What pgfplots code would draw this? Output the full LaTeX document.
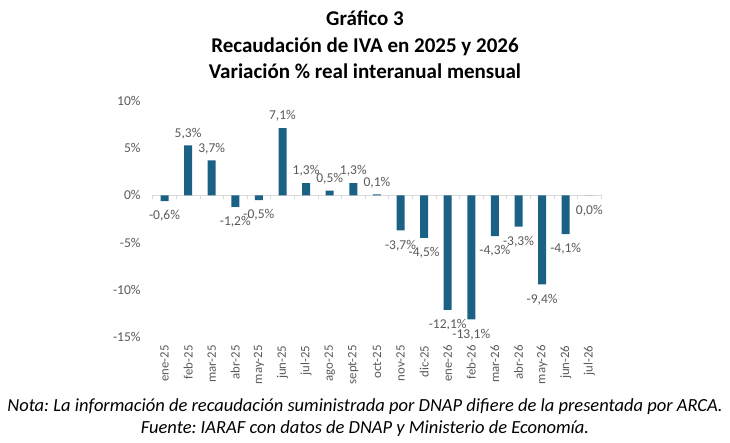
\documentclass[border=0pt]{standalone}
\usepackage{pgfplots}
\pgfplotsset{compat=1.18}
\usepackage{fontspec}
\setmainfont{Carlito}
\definecolor{barc}{HTML}{1B6185}
\definecolor{txt}{HTML}{595959}
\definecolor{axc}{HTML}{D9D9D9}
\begin{document}
\frenchspacing
\begin{tikzpicture}[x=1pt,y=1pt]
\begin{scope}[shift={(-152.7pt,-104.7pt)}]
\useasboundingbox (0,0) rectangle (730,442);
\node[font=\fontsize{21}{24}\selectfont\bfseries, anchor=base] at (365,416) {Gráfico 3};
\node[font=\fontsize{21}{24}\selectfont\bfseries, anchor=base] at (365,389.5) {Recaudación de IVA en 2025 y 2026};
\node[font=\fontsize{21}{24}\selectfont\bfseries, anchor=base] at (365,363.5) {Variación \% real interanual mensual};
\node[font=\fontsize{18.5}{20}\selectfont\itshape, anchor=base] at (365,30.3) {Nota: La información de recaudación suministrada por DNAP difiere de la presentada por ARCA.};
\node[font=\fontsize{18.5}{20}\selectfont\itshape, anchor=base] at (365,9) {Fuente: IARAF con datos de DNAP y Ministerio de Economía.};
\end{scope}
\begin{axis}[
  anchor=south west,
  scale only axis, width=448.4pt, height=236.5pt,
  xmin=-0.5, xmax=18.5, ymin=-15, ymax=10,
  axis line style={draw=none},
  major tick length=0pt,
  tick style={draw=none},
  xtick={0,...,18},
  xticklabels={ene-25,feb-25,mar-25,abr-25,may-25,jun-25,jul-25,ago-25,sept-25,oct-25,nov-25,dic-25,ene-26,feb-26,mar-26,abr-26,may-26,jun-26,jul-26},
  xticklabel style={rotate=90, anchor=east, inner sep=0pt, font=\fontsize{12.8}{14}\selectfont, text=txt},
  xticklabel shift=8pt,
  ytick={-15,-10,-5,0,5,10},
  yticklabels={-15\%,-10\%,-5\%,0\%,5\%,10\%},
  yticklabel style={anchor=east, inner sep=0pt, font=\fontsize{13.5}{14}\selectfont, text=txt},
  yticklabel shift=12pt,
  clip=false,
]
\draw[axc, line width=1pt] (axis cs:-0.5,0) -- (axis cs:18.5,0);
\pgfplotsinvokeforeach{0,1,...,19}{
  \draw[axc, line width=0.8pt] (axis cs:#1-0.5,0) -- ++(0pt,-4pt);
}
\addplot[ybar, bar width=8pt, bar shift=0pt, fill=barc, draw=none,
  nodes near coords, point meta=explicit symbolic,
  every node near coord/.append style={anchor=south, yshift=3pt, font=\fontsize{13.5}{14}\selectfont, text=txt}]
coordinates {
(1,5.3) [5,3\%]
(2,3.7) [3,7\%]
(5,7.1) [7,1\%]
(6,1.3) [1,3\%]
(7,0.5) [0,5\%]
(8,1.3) [1,3\%]
(9,0.1) [0,1\%]
};
\addplot[ybar, bar width=8pt, bar shift=0pt, fill=barc, draw=none,
  nodes near coords, point meta=explicit symbolic,
  every node near coord/.append style={anchor=north, yshift=-6pt, font=\fontsize{13.5}{14}\selectfont, text=txt}]
coordinates {
(0,-0.6) [-0,6\%]
(3,-1.2) [-1,2\%]
(4,-0.5) [-0,5\%]
(10,-3.7) [-3,7\%]
(11,-4.5) [-4,5\%]
(12,-12.1) [-12,1\%]
(13,-13.1) [-13,1\%]
(14,-4.3) [-4,3\%]
(15,-3.3) [-3,3\%]
(16,-9.4) [-9,4\%]
(17,-4.1) [-4,1\%]
(18,0.0) [0,0\%]
};
\end{axis}
\end{tikzpicture}
\end{document}
